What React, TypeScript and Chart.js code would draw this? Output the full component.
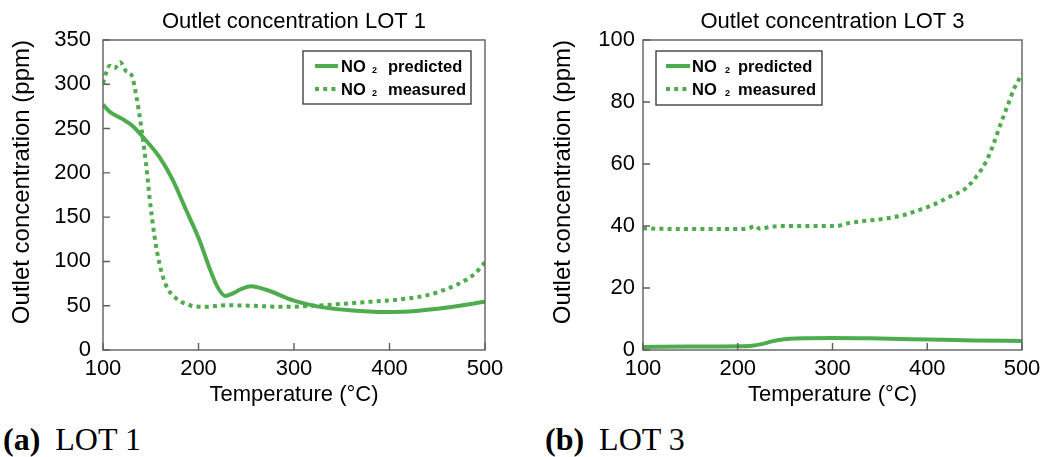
import { useEffect, useRef } from 'react';
import { Chart, registerables } from 'chart.js';

Chart.register(...registerables);

// ---- LOT 1 ----
const lot1PredTemp = [100, 107, 120, 131, 143, 159, 173, 187, 201, 211, 220, 228, 236, 245, 255, 271, 299, 327, 358, 396, 420, 445, 470, 500];
const lot1Predicted = [277, 269, 261, 253, 239, 218, 192, 158, 124, 94, 71, 61, 64, 69, 72, 68, 56, 48.7, 45, 43, 43.5, 46, 49.5, 54.5];
const lot1MeasTemp = [100, 103, 107, 112, 118, 124, 130, 135, 140, 145, 149, 154, 159, 166, 177, 191, 205, 230, 255, 290, 320, 350, 380, 410, 440, 460, 480, 490, 500];
const lot1Measured = [301, 312, 321, 318, 325, 315, 310, 286, 252, 211, 170, 128, 98, 73, 58, 50.5, 48.7, 50.5, 50, 48.7, 50, 52, 54.5, 57, 62, 69, 79, 87, 99];
const lot1YTicks = [0, 50, 100, 150, 200, 250, 300, 350];

// ---- LOT 3 ----
const lot3PredTemp = [100, 150, 200, 215, 225, 235, 245, 255, 270, 300, 350, 400, 450, 500];
const lot3Predicted = [1.0, 1.1, 1.2, 1.4, 1.9, 2.7, 3.3, 3.6, 3.8, 3.9, 3.7, 3.4, 3.1, 2.9];
const lot3MeasTemp = [100, 150, 200, 212, 218, 224, 232, 245, 280, 305, 315, 330, 345, 360, 375, 390, 406, 424, 440, 452, 463, 470, 477, 485, 492, 500];
const lot3Measured = [39.2, 39, 39, 39.3, 40, 39, 39.6, 40, 40, 40, 40.8, 41.5, 42, 42.6, 43.5, 45, 46.8, 49.5, 52, 56, 61.3, 66.5, 72.5, 79, 84.5, 89];
const lot3YTicks = [0, 20, 40, 60, 80, 100];

const temperatureTicks = [100, 200, 300, 400, 500];
const seriesLabels = ['NO₂ predicted', 'NO₂ measured'];

const GREEN = 'rgb(78, 172, 78)';
const FRAME = '#5e5e5e';
const SANS = '"Liberation Sans", Arial, sans-serif';

const toPoints = (xs: number[], ys: number[]) => xs.map((x, i) => ({ x, y: ys[i] }));

// Box around the plot area with short inward tick marks
const framePlugin = {
  id: 'plotFrame',
  afterDatasetsDraw(chart: any) {
    const { ctx, chartArea, scales } = chart;
    const { left, top, right, bottom } = chartArea;
    ctx.save();
    ctx.strokeStyle = FRAME;
    ctx.lineWidth = 1.4;
    ctx.beginPath();
    scales.x.ticks.forEach((t: any) => {
      const px = scales.x.getPixelForValue(t.value);
      ctx.moveTo(px, bottom);
      ctx.lineTo(px, bottom - 7);
    });
    scales.y.ticks.forEach((t: any) => {
      const py = scales.y.getPixelForValue(t.value);
      ctx.moveTo(left, py);
      ctx.lineTo(left + 7, py);
    });
    ctx.stroke();
    ctx.strokeRect(left, top, right - left, bottom - top);
    ctx.restore();
  },
};

// Framed legend drawn inside the plot area
const boxedLegendPlugin = {
  id: 'boxedLegend',
  afterDraw(chart: any, _args: any, opts: any) {
    const { ctx, chartArea } = chart;
    const left = opts.side === 'right'
      ? chartArea.right - opts.offsetX - opts.width
      : chartArea.left + opts.offsetX;
    const top = chartArea.top + opts.offsetY;
    ctx.save();
    ctx.fillStyle = '#fff';
    ctx.fillRect(left, top, opts.width, opts.height);
    ctx.strokeStyle = '#333';
    ctx.lineWidth = 1.3;
    ctx.strokeRect(left, top, opts.width, opts.height);
    chart.data.datasets.forEach((ds: any, i: number) => {
      const y = top + opts.rows[i];
      ctx.strokeStyle = ds.borderColor;
      ctx.lineWidth = ds.borderWidth;
      ctx.setLineDash(ds.borderDash || []);
      ctx.beginPath();
      ctx.moveTo(left + opts.sampleStart, y);
      ctx.lineTo(left + opts.sampleEnd, y);
      ctx.stroke();
      ctx.setLineDash([]);

      const [base, rest] = String(ds.label).split('₂');
      ctx.fillStyle = '#000';
      ctx.textBaseline = 'alphabetic';
      ctx.textAlign = 'left';
      ctx.font = `bold 16.5px ${SANS}`;
      ctx.fillText(base, left + opts.textStart, y + 6);
      ctx.font = `bold 9px ${SANS}`;
      ctx.fillText('2', left + opts.textStart + opts.subOffset, y + 7);
      ctx.font = `bold 16.5px ${SANS}`;
      ctx.fillText(rest.trim(), left + opts.restStart, y + 6);
    });
    ctx.restore();
  },
};

type PanelProps = {
  title: string;
  predicted: { x: number; y: number }[];
  measured: { x: number; y: number }[];
  yMax: number;
  yTicks: number[];
  width: number;
  yAxisWidth: number;
  padRight: number;
  yTickPad: number;
  yTitlePad: number;
  legend: any;
};

function Panel(p: PanelProps) {
  const ref = useRef<HTMLCanvasElement | null>(null);

  useEffect(() => {
    if (!ref.current) return;
    const tickFont = { family: SANS, size: 22, lineHeight: 1.2 };
    const chart = new Chart(ref.current, {
      type: 'line',
      data: {
        datasets: [
          {
            label: seriesLabels[0],
            data: p.predicted,
            borderColor: GREEN,
            borderWidth: 4,
            pointRadius: 0,
            cubicInterpolationMode: 'monotone',
            fill: false,
          },
          {
            label: seriesLabels[1],
            data: p.measured,
            borderColor: GREEN,
            borderWidth: 4,
            borderDash: [4, 4.2],
            pointRadius: 0,
            cubicInterpolationMode: 'monotone',
            fill: false,
          },
        ],
      },
      options: {
        animation: false,
        responsive: false,
        events: [],
        layout: { padding: { left: 0, right: p.padRight, top: 0, bottom: 5 } },
        plugins: {
          legend: { display: false },
          tooltip: { enabled: false },
          title: {
            display: true,
            text: p.title,
            fullSize: false,
            color: '#000',
            font: { family: SANS, size: 22, weight: 'normal', lineHeight: 1.2 },
            padding: { top: 9, bottom: 4.6 },
          },
          boxedLegend: p.legend,
        } as any,
        scales: {
          x: {
            type: 'linear',
            min: 100,
            max: 500,
            afterBuildTicks: (s: any) => {
              s.ticks = temperatureTicks.map((v) => ({ value: v }));
            },
            afterFit: (s: any) => {
              s.height = 60;
            },
            grid: { display: false, drawTicks: false },
            border: { display: false },
            ticks: { font: tickFont, color: '#000', padding: 6, maxRotation: 0, autoSkip: false },
            title: {
              display: true,
              text: 'Temperature (°C)',
              color: '#000',
              font: { family: SANS, size: 22, lineHeight: 1.2 },
              padding: { top: 0, bottom: 2 },
            },
          },
          y: {
            type: 'linear',
            min: 0,
            max: p.yMax,
            afterBuildTicks: (s: any) => {
              s.ticks = p.yTicks.map((v) => ({ value: v }));
            },
            afterFit: (s: any) => {
              s.width = p.yAxisWidth;
            },
            grid: { display: false, drawTicks: false },
            border: { display: false },
            ticks: { font: tickFont, color: '#000', padding: p.yTickPad, autoSkip: false },
            title: {
              display: true,
              text: 'Outlet concentration (ppm)',
              align: 'end',
              color: '#000',
              font: { family: SANS, size: 24, lineHeight: 1.2 },
              padding: { top: p.yTitlePad, bottom: 0 },
            },
          },
        },
      } as any,
      plugins: [framePlugin, boxedLegendPlugin],
    });
    return () => chart.destroy();
  }, []);

  return <canvas ref={ref} width={p.width} height={415} style={{ display: 'block', width: p.width, height: 415 }} />;
}

const captionStyle: React.CSSProperties = {
  position: 'absolute',
  top: 423,
  fontFamily: '"Liberation Serif", "Times New Roman", serif',
  fontSize: 32,
  lineHeight: '32px',
  color: '#000',
  whiteSpace: 'nowrap',
};

export default function App() {
  return (
    <div style={{ position: 'absolute', left: 0, top: 0, width: 1048, height: 457, background: '#fff', overflow: 'hidden' }}>
      <div style={{ position: 'absolute', left: 0, top: 0 }}>
        <Panel
          title="Outlet concentration LOT 1"
          predicted={toPoints(lot1PredTemp, lot1Predicted)}
          measured={toPoints(lot1MeasTemp, lot1Measured)}
          yMax={350}
          yTicks={lot1YTicks}
          width={520}
          yAxisWidth={103}
          padRight={35}
          yTickPad={12}
          yTitlePad={8.2}
          legend={{ side: 'right', offsetX: 14, offsetY: 11, width: 168, height: 53, rows: [15, 38], sampleStart: 12, sampleEnd: 35, textStart: 38, subOffset: 31, restStart: 85 }}
        />
      </div>
      <div style={{ position: 'absolute', left: 520, top: 0 }}>
        <Panel
          title="Outlet concentration LOT 3"
          predicted={toPoints(lot3PredTemp, lot3Predicted)}
          measured={toPoints(lot3MeasTemp, lot3Measured)}
          yMax={100}
          yTicks={lot3YTicks}
          width={528}
          yAxisWidth={123}
          padRight={26}
          yTickPad={8}
          yTitlePad={28.7}
          legend={{ side: 'left', offsetX: 13, offsetY: 11, width: 166, height: 54, rows: [15, 38], sampleStart: 10, sampleEnd: 34, textStart: 36, subOffset: 33, restStart: 82 }}
        />
      </div>
      <div style={{ ...captionStyle, left: 3 }}>
        <b style={{ marginRight: 7 }}>(a)</b> LOT 1
      </div>
      <div style={{ ...captionStyle, left: 545 }}>
        <b style={{ marginRight: 7 }}>(b)</b> LOT 3
      </div>
    </div>
  );
}
